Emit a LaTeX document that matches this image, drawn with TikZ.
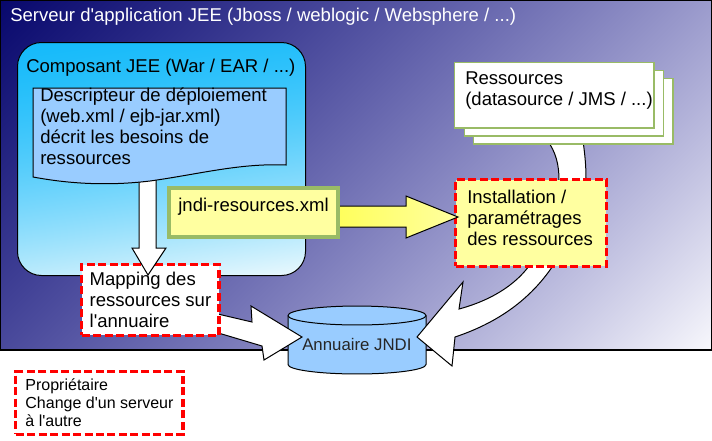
\documentclass[tikz,border=0pt]{standalone}
\usepackage{fontspec}
\setmainfont{Liberation Sans}[Ligatures=TeXOff]
\usetikzlibrary{calc}

\definecolor{descrfill}{RGB}{153,204,255}
\definecolor{resgreen}{RGB}{153,187,102}
\definecolor{lightyellow}{RGB}{255,255,160}
\definecolor{arrowyellow}{RGB}{255,255,90}
\definecolor{dashred}{RGB}{255,0,0}

% degrades diagonaux (serveur, composant)
\pgfdeclarefunctionalshading{srvshade}{\pgfpointorigin}{\pgfpoint{100bp}{100bp}}{}{
  75 exch sub 50 div 0.33 mul exch 25 sub 50 div 0.67 mul add
  dup dup 0.25 mul 0.75 add mul
  0.941 mul 0.031 add
  dup 3 -1 roll
  0.565 mul 0.424 add
}
\pgfdeclarefunctionalshading{compshade}{\pgfpointorigin}{\pgfpoint{100bp}{100bp}}{}{
  75 exch sub 50 div 0.85 mul exch 25 sub 50 div 0.15 mul add
  dup dup 0.6 mul 0.4 add mul
  dup 0.847 mul 0.078 add
  exch 0.247 mul 0.729 add
  3 -1 roll
  0.012 mul 0.98 add
}

\begin{document}
\begin{tikzpicture}[
        x=0.75pt, y=-0.75pt,
        font=\fontsize{13.9pt}{15.6pt}\selectfont,
        lbl/.style={inner sep=0pt, anchor=base west},
        redbox/.style={draw=dashred, line width=2.6pt, dash pattern=on 6pt off 2.6pt, anchor=north west, inner sep=0pt, align=left},
        resbox/.style={draw=resgreen, line width=1.1pt, fill=white, anchor=north west, minimum width=149.6pt, minimum height=49.1pt, inner sep=0pt},
        blockarrow/.style={draw=black, line width=0.75pt, fill=white, line join=miter}
    ]
    \useasboundingbox (0,0) rectangle (712,440);

    % serveur d'application
    \node[draw, line width=1.1pt, shading=srvshade, anchor=north west, minimum width=532.9pt, minimum height=262.1pt, inner sep=0pt] (serveur) at (0,0) {};
    \node[lbl, text=white] (srvtitle) at (10,21.5) {Serveur d'application JEE (Jboss / weblogic / Websphere / ...)};

    % composant JEE
    \node[draw, line width=0.75pt, rounded corners=18pt, shading=compshade, anchor=north west, minimum width=216pt, minimum height=174.75pt, inner sep=0pt] (composant) at (17,42) {};
    \node[lbl] (comptitle) at (26,72) {Composant JEE (War / EAR / ...)};

    % annuaire JNDI
    \path[draw, line width=0.75pt, fill=descrfill] (288,364.5) arc[start angle=180, end angle=360, x radius=51.75pt, y radius=7.1pt] -- (426,315.5) arc[start angle=0, end angle=180, x radius=51.75pt, y radius=7.1pt] -- cycle;
    \draw[line width=0.75pt] (288,315.5) arc[start angle=180, end angle=360, x radius=51.75pt, y radius=7.1pt];

    % fleches vers l'annuaire
    \draw[blockarrow] (205,311) -- (252,322) -- (251,306) -- (302,337) -- (264,360) -- (262,346) -- (205,329) -- cycle;
    \draw[blockarrow] (547,140) .. controls (556,152) and (559,165) .. (559,180) -- (540,245) .. controls (530,275) and (500,298) .. (459,309) -- (463,282) -- (417,337) -- (452,366) -- (455,337) .. controls (500,322) and (540,295) .. (565,245) -- (586,180) .. controls (586,160) and (584,150) .. (583,140) -- cycle;

    % mapping
    \node[redbox, fill=white, minimum width=103.1pt, minimum height=52.9pt] (mapping) at (80,263) {Mapping des\\ressources sur\\l'annuaire};

    % descripteur
    \draw[blockarrow] (139,172) -- (156,172) -- (156,248) -- (166,248) -- (148,275) -- (132,248) -- (139,248) -- cycle;
    \draw[line width=0.75pt, fill=descrfill] (33,88) -- (286,88) -- (286,165) .. controls (240,163) and (200,174) .. (150,181) .. controls (100,187) and (60,182) .. (33,177) -- cycle;
    \node[lbl, align=left, font=\fontsize{13.9pt}{15.75pt}\selectfont] (descr) at (40,164.5) {Descripteur de déploiement\\(web.xml / ejb-jar.xml)\\décrit les besoins de\\ressources};

    % ressources
    \node[resbox] (res3) at (473,78) {};
    \node[resbox] (res2) at (463.5,70) {};
    \node[resbox] (res1) at (454,62) {};
    \node[lbl, align=left] (reslbl) at (465,105.3) {Ressources\\(datasource / JMS / ...)};

    % installation
    \node[redbox, fill=lightyellow, minimum width=112.9pt, minimum height=64.9pt] (install) at (454,178) {};
    \node[lbl, align=left] (installlbl) at (467,245) {Installation /\\paramétrages\\des ressources};

    % jndi-resources.xml
    \draw[draw=black, line width=0.75pt, left color=arrowyellow, right color=lightyellow] (335,206) -- (406,206) -- (406,196) -- (458,217) -- (406,238) -- (406,227) -- (335,227) -- cycle;
    \node[draw=resgreen, line width=3pt, fill=lightyellow, anchor=north west, minimum width=126.75pt, inner xsep=7pt, inner ysep=0pt, text height=17.25pt, text depth=19.5pt] (jndires) at (167,186) {jndi-resources.xml};

    % proprietaire
    \node[redbox, fill=white, minimum width=125.6pt, minimum height=46.9pt, font=\fontsize{12pt}{13.5pt}\selectfont] (proprio) at (14,370) {Propriétaire\\Change d'un serveur\\à l'autre};

    \node[lbl, text=black!85, font=\fontsize{12.6pt}{14pt}\selectfont] (annuaire) at (302,350.7) {Annuaire JNDI};
\end{tikzpicture}
\end{document}
